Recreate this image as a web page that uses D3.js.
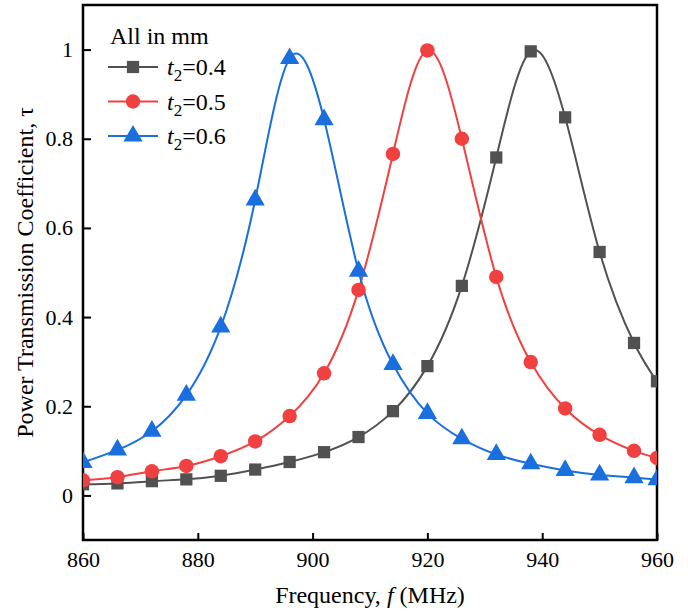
<!DOCTYPE html>
<html>
<head>
<meta charset="utf-8">
<script src="https://cdn.jsdelivr.net/npm/d3@7"></script>
<style>
    body { margin: 0; background: #fff; }
    svg text { font-family: "Liberation Serif", "Times New Roman", serif; fill: #000; }
</style>
</head>
<body>
<div id="chart"></div>
<script>
// frequencies of markers (MHz)
const freq = [860, 866, 872, 878, 884, 890, 896, 902, 908, 914, 920, 926, 932, 938, 944, 950, 956, 960];

// t2 = 0.4
const tau04 = [0.025, 0.027, 0.032, 0.036, 0.044, 0.058, 0.075, 0.097, 0.131, 0.189, 0.290, 0.470, 0.758, 0.996, 0.848, 0.546, 0.342, 0.256];
// t2 = 0.5
const tau05 = [0.034, 0.041, 0.054, 0.066, 0.088, 0.121, 0.178, 0.274, 0.461, 0.766, 0.998, 0.800, 0.490, 0.299, 0.195, 0.136, 0.100, 0.084];
// t2 = 0.6
const tau06 = [0.074, 0.102, 0.144, 0.225, 0.378, 0.663, 0.980, 0.843, 0.503, 0.294, 0.184, 0.127, 0.092, 0.071, 0.056, 0.046, 0.040, 0.035];

const seriesNames = ["0.4", "0.5", "0.6"];
const xTicks = [860, 880, 900, 920, 940, 960];
const yTicks = [0, 0.2, 0.4, 0.6, 0.8, 1];

const W = 688, H = 613;
const margin = {top: 5, right: 31, bottom: 73, left: 83};
const width = W - margin.left - margin.right;
const height = H - margin.top - margin.bottom;

const svg = d3.select("#chart").append("svg")
    .attr("width", W)
    .attr("height", H);

const g = svg.append("g")
    .attr("transform", "translate(" + margin.left + "," + margin.top + ")");

const x = d3.scaleLinear().domain([860, 960]).range([0, width]);
const y = d3.scaleLinear().domain([-0.1, 1.1]).range([height, 0]);

g.append("clipPath").attr("id", "clip")
    .append("rect").attr("width", width).attr("height", height);

// axes, ticks inside
const xAxis = g.append("g")
    .attr("transform", "translate(0," + height + ")")
    .call(d3.axisBottom(x).tickValues(xTicks).tickSizeInner(-7).tickSizeOuter(0).tickPadding(11));
const yAxis = g.append("g")
    .call(d3.axisLeft(y).tickValues(yTicks).tickSizeInner(-8).tickSizeOuter(0).tickPadding(10)
        .tickFormat(d => d === 0 ? "0" : d === 1 ? "1" : d3.format(".1f")(d)));

[xAxis, yAxis].forEach(a => {
    a.attr("font-family", null);
    a.select(".domain").remove();
    a.selectAll(".tick line").attr("stroke", "#000").attr("stroke-width", 2);
    a.selectAll(".tick text").style("font-size", "22px").attr("fill", "#000");
});

// frame
g.append("rect")
    .attr("width", width).attr("height", height)
    .attr("fill", "none").attr("stroke", "#000").attr("stroke-width", 2.5);

const colors = ["#515151", "#F14040", "#1A6FDF"];
const symbols = [d3.symbolSquare, d3.symbolCircle, d3.symbolTriangle];
const symSize = [150, 165, 160];
const data = [tau04, tau05, tau06];

const line = d3.line()
    .x((d, i) => x(freq[i]))
    .y(d => y(d))
    .curve(d3.curveNatural);

const plot = g.append("g").attr("clip-path", "url(#clip)");

data.forEach((vals, k) => {
    plot.append("path")
        .datum(vals)
        .attr("d", line)
        .attr("fill", "none")
        .attr("stroke", colors[k])
        .attr("stroke-width", 2);
});

data.forEach((vals, k) => {
    plot.selectAll(".m" + k)
        .data(vals)
        .enter().append("path")
        .attr("class", "m" + k)
        .attr("d", d3.symbol().type(symbols[k]).size(symSize[k]))
        .attr("transform", (d, i) => "translate(" + x(freq[i]) + "," + y(d) + ")")
        .attr("fill", colors[k]);
});

// legend
const legend = g.append("g").attr("transform", "translate(25,0)");
legend.append("text")
    .attr("x", 2).attr("y", 39)
    .style("font-size", "24px")
    .text("All in mm");

seriesNames.forEach((name, k) => {
    const ly = 62 + k * 34.5;
    legend.append("line")
        .attr("x1", 0).attr("x2", 50)
        .attr("y1", ly).attr("y2", ly)
        .attr("stroke", colors[k]).attr("stroke-width", 2);
    legend.append("path")
        .attr("d", d3.symbol().type(symbols[k]).size(symSize[k]))
        .attr("transform", "translate(25," + ly + ")")
        .attr("fill", colors[k]);
    const t = legend.append("text")
        .attr("x", 59).attr("y", ly + 8)
        .style("font-size", "24px");
    t.append("tspan").style("font-style", "italic").text("t");
    t.append("tspan").attr("dy", 6).style("font-size", "17px").text("2");
    t.append("tspan").attr("dy", -6).text("=" + name);
});

// axis titles
const xt = svg.append("text")
    .attr("x", margin.left + width / 2).attr("y", 603)
    .attr("text-anchor", "middle")
    .style("font-size", "24px");
xt.append("tspan").text("Frequency, ");
xt.append("tspan").style("font-style", "italic").text("f");
xt.append("tspan").text(" (MHz)");

svg.append("text")
    .attr("transform", "translate(33," + (margin.top + height / 2) + ") rotate(-90)")
    .attr("text-anchor", "middle")
    .style("font-size", "24px")
    .text("Power Transmission Coefficient, \u03C4");
</script>
</body>
</html>
